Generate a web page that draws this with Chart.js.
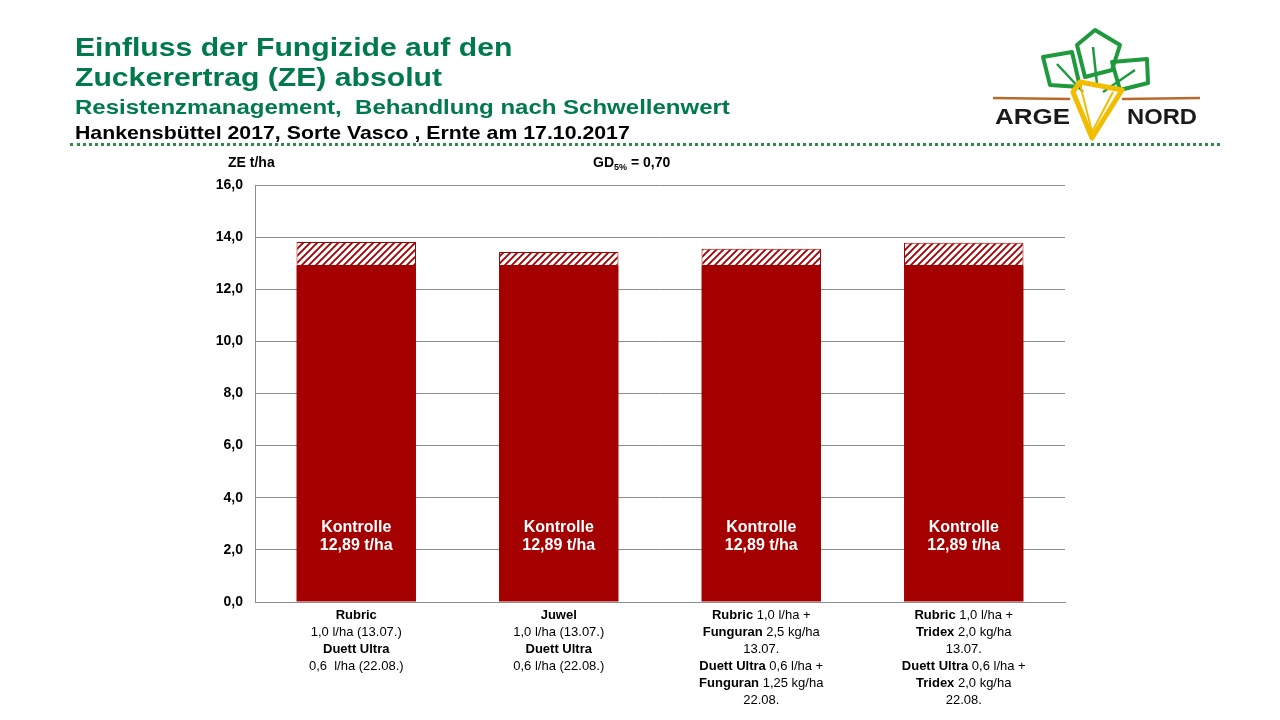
<!DOCTYPE html>
<html>
<head>
<meta charset="utf-8">
<script src="https://cdn.jsdelivr.net/npm/chart.js@4"></script>
<style>
  body { margin: 0; background: #fff; font-family: "Liberation Sans", Arial, sans-serif; }
  #wrap { position: relative; width: 1280px; height: 720px; overflow: hidden; }
  #chart { position: absolute; left: 0; top: 0; }
  .t { position: absolute; left: 75px; font-weight: bold; white-space: pre; line-height: 1; transform-origin: left top; }
  .green { color: #00794c; }
  #dots { position: absolute; left: 70px; top: 143px; width: 1150px; border-top: 3px dotted #2c8a4a; }
  #logo { position: absolute; left: 985px; top: 22px; }
</style>
</head>
<body>
<div id="wrap">
  <canvas id="chart" width="1280" height="720"></canvas>
  <div class="t green" style="top:34px;font-size:26px;transform:scaleX(1.16);">Einfluss der Fungizide auf den</div>
  <div class="t green" style="top:64px;font-size:26px;transform:scaleX(1.16);">Zuckerertrag (ZE) absolut</div>
  <div class="t green" style="top:97px;font-size:20px;transform:scaleX(1.2);">Resistenzmanagement,  Behandlung nach Schwellenwert</div>
  <div class="t" style="top:123px;font-size:19px;color:#000;transform:scaleX(1.12);">Hankensbüttel 2017, Sorte Vasco , Ernte am 17.10.2017</div>
  <div id="dots"></div>
  <svg id="logo" width="230" height="125" viewBox="0 0 230 125">
    <g fill="none" stroke="#1e9a3c" stroke-width="4" stroke-linejoin="round">
      <polygon points="58,35 87,30 95,65 65,63"/>
      <polygon points="92,23 110,8 135,23 127,48 100,55"/>
      <polygon points="127,40 162,37 163,61 135,68"/>
      <path d="M72,42 L98,70 M108,25 L112,62 M150,48 L118,70" stroke-width="2.5"/>
    </g>
    <path d="M8,76 L85,77 M137,77 L215,76" stroke="#b86a2a" stroke-width="2.5"/>
    <polygon points="95,60 137,68 107,116 88,70" fill="none" stroke="#f2bd00" stroke-width="5" stroke-linejoin="round"/>
    <path d="M95,62 L107,110 L128,70" fill="none" stroke="#f2bd00" stroke-width="2"/>
    <text x="10" y="102" textLength="75" lengthAdjust="spacingAndGlyphs" font-family="Liberation Sans, Arial" font-weight="bold" font-size="22" fill="#1a1a1a">ARGE</text>
    <text x="142" y="102" textLength="70" lengthAdjust="spacingAndGlyphs" font-family="Liberation Sans, Arial" font-weight="bold" font-size="22" fill="#1a1a1a">NORD</text>
  </svg>
</div>
<script>
const categories = ['T1', 'T2', 'T3', 'T4'];
const kontrolle = [12.89, 12.89, 12.89, 12.89];
const mehrertrag = [0.92, 0.54, 0.66, 0.89];
const yTicks = [0, 2, 4, 6, 8, 10, 12, 14, 16];

// x-axis labels: each line is a list of [text, bold]
const xLabels = [
  [[['Rubric', true]], [['1,0 l/ha (13.07.)', false]], [['Duett Ultra', true]], [['0,6  l/ha (22.08.)', false]]],
  [[['Juwel', true]], [['1,0 l/ha (13.07.)', false]], [['Duett Ultra', true]], [['0,6 l/ha (22.08.)', false]]],
  [[['Rubric', true], [' 1,0 l/ha +', false]], [['Funguran', true], [' 2,5 kg/ha', false]], [['13.07.', false]],
   [['Duett Ultra', true], [' 0,6 l/ha +', false]], [['Funguran', true], [' 1,25 kg/ha', false]], [['22.08.', false]]],
  [[['Rubric', true], [' 1,0 l/ha +', false]], [['Tridex', true], [' 2,0 kg/ha', false]], [['13.07.', false]],
   [['Duett Ultra', true], [' 0,6 l/ha +', false]], [['Tridex', true], [' 2,0 kg/ha', false]], [['22.08.', false]]]
];

const red = '#a50000';

// hatch pattern for the extra yield
function makeHatch() {
  const c = document.createElement('canvas');
  c.width = 7; c.height = 7;
  const g = c.getContext('2d');
  g.fillStyle = '#fff';
  g.fillRect(0, 0, 7, 7);
  g.strokeStyle = red;
  g.lineWidth = 1.9;
  g.beginPath();
  g.moveTo(-1, 8); g.lineTo(8, -1);
  g.moveTo(-4, 4); g.lineTo(4, -4);
  g.moveTo(3, 11); g.lineTo(11, 3);
  g.stroke();
  return g.createPattern(c, 'repeat');
}

const labelFont = '"Liberation Sans Narrow", "Liberation Sans", Arial, sans-serif';

const extrasPlugin = {
  id: 'extras',
  afterDraw(chart) {
    const ctx = chart.ctx;
    const x = chart.scales.x, y = chart.scales.y;
    ctx.save();
    // text inside bars
    ctx.fillStyle = '#fff';
    ctx.font = 'bold 16px "Liberation Sans", Arial, sans-serif';
    ctx.textAlign = 'center';
    ctx.textBaseline = 'middle';
    categories.forEach((c, i) => {
      const px = x.getPixelForValue(i);
      ctx.fillText('Kontrolle', px, y.getPixelForValue(2.87));
      ctx.fillText(kontrolle[i].toFixed(2).replace('.', ',') + ' t/ha', px, y.getPixelForValue(2.15));
    });
    // x labels with mixed weights
    ctx.fillStyle = '#000';
    ctx.textAlign = 'left';
    xLabels.forEach((lines, i) => {
      const cx = x.getPixelForValue(i);
      lines.forEach((parts, j) => {
        let w = 0;
        parts.forEach(p => { ctx.font = (p[1] ? 'bold ' : '') + '13px ' + labelFont; w += ctx.measureText(p[0]).width; });
        let px = cx - w / 2;
        const py = y.bottom + 13 + j * 17;
        parts.forEach(p => {
          ctx.font = (p[1] ? 'bold ' : '') + '13px ' + labelFont;
          ctx.fillText(p[0], px, py);
          px += ctx.measureText(p[0]).width;
        });
      });
    });
    // axis title and GD
    ctx.font = 'bold 14px "Liberation Sans", Arial, sans-serif';
    ctx.textAlign = 'left';
    ctx.fillText('ZE t/ha', 228, 163);
    ctx.fillText('GD', 593, 163);
    let gx = 593 + ctx.measureText('GD').width;
    ctx.font = 'bold 9px "Liberation Sans", Arial, sans-serif';
    ctx.fillText('5%', gx, 168);
    gx += ctx.measureText('5%').width;
    ctx.font = 'bold 14px "Liberation Sans", Arial, sans-serif';
    ctx.fillText(' = 0,70', gx, 163);
    ctx.restore();
  }
};

const ctx = document.getElementById('chart').getContext('2d');
new Chart(ctx, {
  type: 'bar',
  data: {
    labels: categories,
    datasets: [
      { data: kontrolle, backgroundColor: red, borderWidth: 0, categoryPercentage: 1, barPercentage: 0.59 },
      { data: mehrertrag, backgroundColor: makeHatch(), borderColor: red, borderWidth: 1, borderSkipped: false,
        categoryPercentage: 1, barPercentage: 0.59 }
    ]
  },
  options: {
    responsive: false,
    animation: false,
    layout: { padding: { left: 0, right: 215, top: 185, bottom: 118 } },
    plugins: { legend: { display: false }, tooltip: { enabled: false } },
    scales: {
      x: {
        stacked: true,
        ticks: { display: false },
        grid: { display: false, drawTicks: false },
        border: { display: true, color: '#8c8c8c', width: 1 },
        afterFit(s) { s.height = 0; }
      },
      y: {
        stacked: true,
        min: 0, max: 16,
        afterBuildTicks(s) { s.ticks = yTicks.map(v => ({ value: v })); },
        afterFit(s) { s.width = 255; },
        ticks: {
          color: '#000',
          padding: 12,
          font: { family: '"Liberation Sans", Arial, sans-serif', size: 14, weight: 'bold' },
          callback: v => v.toFixed(1).replace('.', ',')
        },
        grid: { color: '#8c8c8c', lineWidth: 1, drawTicks: false },
        border: { display: true, color: '#8c8c8c', width: 1 }
      }
    }
  },
  plugins: [extrasPlugin]
});
</script>
</body>
</html>
